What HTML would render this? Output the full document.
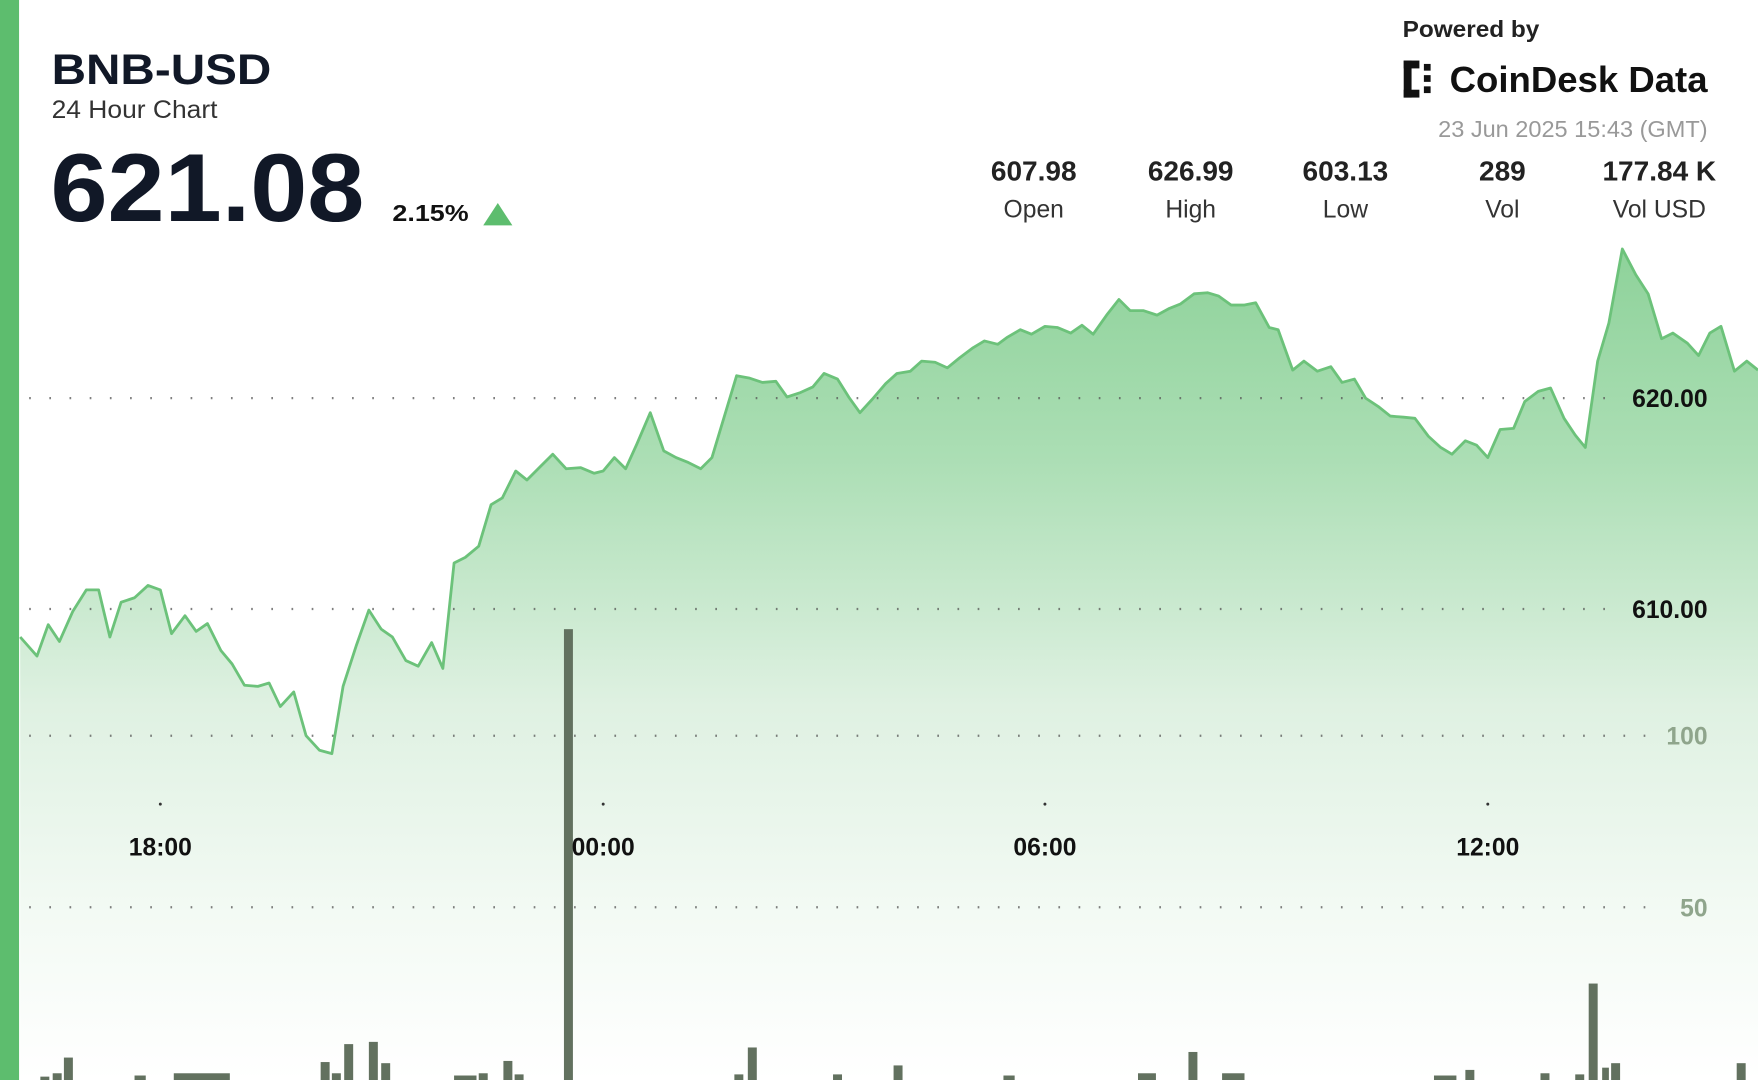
<!DOCTYPE html>
<html><head><meta charset="utf-8"><style>
html,body{margin:0;padding:0;background:#fff;}
svg{display:block;font-family:"Liberation Sans",sans-serif;}
</style></head><body>
<svg width="1758" height="1080" viewBox="0 0 1568 963" preserveAspectRatio="none">
<defs>
<linearGradient id="g" x1="0" y1="222" x2="0" y2="963" gradientUnits="userSpaceOnUse">
<stop offset="0" stop-color="#8ed29a"/>
<stop offset="0.25" stop-color="#abdeb4"/>
<stop offset="0.55" stop-color="#dff1e2"/>
<stop offset="0.8" stop-color="#f3faf4"/>
<stop offset="1" stop-color="#ffffff"/>
</linearGradient>
</defs>
<rect x="0" y="0" width="1568" height="963" fill="#fff"/>
<polygon fill="url(#g)" points="18,963 18,568 33,585 43,557 53,572 65,545 77,526 88,526 98,568 108,537 120,533 132,522 143,526 153,565 165,549 175,563 185,556 197,580 207,592 218,611 230,612 240,609 250,630 262,617 273,656 285,669 296,672 306,612 318,575 329,544 340,561 350,568 362,589 373,594 385,573 395,596 405,502 415,497 427,487 438,450 448,444 460,420 470,428 482,416 493,405 505,418 518,417 530,422 538,420 548,408 558,418 568,396 580,368 592,402 603,408 613,412 625,418 635,408 657,335 668,337 680,341 692,340 702,354 714,350 725,345 735,333 747,338 757,354 767,368 778,356 790,342 800,333 812,331 822,322 834,323 845,328 856,319 868,310 878,304 890,307 898,301 910,294 920,298 932,291 943,292 955,297 965,290 975,298 987,281 998,267 1008,277 1020,277 1032,281 1043,275 1053,271 1065,262 1077,261 1087,264 1098,272 1110,272 1120,270 1132,292 1140,294 1153,330 1163,322 1175,331 1187,327 1197,341 1208,338 1218,355 1230,363 1240,371 1252,372 1262,373 1274,389 1285,399 1295,405 1307,393 1317,397 1327,408 1338,383 1350,382 1360,358 1372,349 1383,346 1395,373 1405,388 1414,399 1425,322 1435,288 1447,222 1459,245 1470,262 1482,302 1492,297 1505,306 1515,317 1525,297 1535,291 1547,331 1558,322 1568,330 1568,963"/>
<g stroke="#555" stroke-width="2" stroke-dasharray="1.5 16.5" opacity="0.75">
<line x1="26" y1="355" x2="1440" y2="355"/>
<line x1="26" y1="543" x2="1440" y2="543"/>
<line x1="26" y1="656" x2="1470" y2="656"/>
<line x1="26" y1="809" x2="1480" y2="809"/>
</g>
<polyline fill="none" stroke="#6cc27a" stroke-width="2.5" stroke-linejoin="round" points="18,568 33,585 43,557 53,572 65,545 77,526 88,526 98,568 108,537 120,533 132,522 143,526 153,565 165,549 175,563 185,556 197,580 207,592 218,611 230,612 240,609 250,630 262,617 273,656 285,669 296,672 306,612 318,575 329,544 340,561 350,568 362,589 373,594 385,573 395,596 405,502 415,497 427,487 438,450 448,444 460,420 470,428 482,416 493,405 505,418 518,417 530,422 538,420 548,408 558,418 568,396 580,368 592,402 603,408 613,412 625,418 635,408 657,335 668,337 680,341 692,340 702,354 714,350 725,345 735,333 747,338 757,354 767,368 778,356 790,342 800,333 812,331 822,322 834,323 845,328 856,319 868,310 878,304 890,307 898,301 910,294 920,298 932,291 943,292 955,297 965,290 975,298 987,281 998,267 1008,277 1020,277 1032,281 1043,275 1053,271 1065,262 1077,261 1087,264 1098,272 1110,272 1120,270 1132,292 1140,294 1153,330 1163,322 1175,331 1187,327 1197,341 1208,338 1218,355 1230,363 1240,371 1252,372 1262,373 1274,389 1285,399 1295,405 1307,393 1317,397 1327,408 1338,383 1350,382 1360,358 1372,349 1383,346 1395,373 1405,388 1414,399 1425,322 1435,288 1447,222 1459,245 1470,262 1482,302 1492,297 1505,306 1515,317 1525,297 1535,291 1547,331 1558,322 1568,330"/>
<g fill="#62715f">
<rect x="503" y="561" width="8" height="402"/>
<rect x="1417" y="877" width="8" height="86"/>
<rect x="57" y="943" width="8" height="20"/>
<rect x="47" y="957" width="8" height="6"/>
<rect x="36" y="960" width="8" height="3"/>
<rect x="307" y="931" width="8" height="32"/>
<rect x="329" y="929" width="8" height="34"/>
<rect x="340" y="948" width="8" height="15"/>
<rect x="286" y="947" width="8" height="16"/>
<rect x="296" y="957" width="8" height="6"/>
<rect x="449" y="946" width="8" height="17"/>
<rect x="459" y="958" width="8" height="5"/>
<rect x="427" y="957" width="8" height="6"/>
<rect x="405" y="959" width="20" height="4"/>
<rect x="155" y="957" width="50" height="6"/>
<rect x="667" y="934" width="8" height="29"/>
<rect x="655" y="958" width="8" height="5"/>
<rect x="797" y="950" width="8" height="13"/>
<rect x="743" y="958" width="8" height="5"/>
<rect x="1060" y="938" width="8" height="25"/>
<rect x="1015" y="957" width="16" height="6"/>
<rect x="1090" y="957" width="20" height="6"/>
<rect x="1307" y="954" width="8" height="9"/>
<rect x="1279" y="959" width="20" height="4"/>
<rect x="1374" y="957" width="8" height="6"/>
<rect x="1405" y="958" width="8" height="5"/>
<rect x="1429" y="952" width="6" height="11"/>
<rect x="1437" y="948" width="8" height="15"/>
<rect x="1549" y="948" width="8" height="15"/>
<rect x="120" y="959" width="10" height="4"/>
<rect x="895" y="959" width="10" height="4"/>
</g>
<rect x="0" y="0" width="17" height="963" fill="#5dbd6e"/>
<g fill="#333"><circle cx="143" cy="717" r="1.3"/><circle cx="538" cy="717" r="1.3"/><circle cx="932" cy="717" r="1.3"/><circle cx="1327" cy="717" r="1.3"/></g>
<g font-weight="bold" font-size="22" fill="#111" text-anchor="middle">
<text x="143" y="763">18:00</text><text x="538" y="763">00:00</text><text x="932" y="763">06:00</text><text x="1327" y="763">12:00</text>
</g>
<g font-weight="bold" font-size="22" text-anchor="end">
<text x="1523" y="363" fill="#111">620.00</text>
<text x="1523" y="551" fill="#111">610.00</text>
<text x="1523" y="664" fill="#8fa58c">100</text>
<text x="1523" y="817" fill="#8fa58c">50</text>
</g>
<text x="46" y="75" font-size="38" font-weight="bold" fill="#111827" textLength="196" lengthAdjust="spacingAndGlyphs">BNB-USD</text>
<text x="46" y="105" font-size="22" fill="#333" textLength="148" lengthAdjust="spacingAndGlyphs">24 Hour Chart</text>
<text x="45" y="197" font-size="86" font-weight="bold" fill="#111827" textLength="280" lengthAdjust="spacingAndGlyphs">621.08</text>
<text x="350" y="197" font-size="21" font-weight="bold" fill="#111" textLength="68" lengthAdjust="spacingAndGlyphs">2.15%</text>
<polygon points="431,201 457,201 444,181" fill="#5dbd6e"/>
<text x="1251" y="33" font-size="21" font-weight="bold" fill="#222" textLength="122" lengthAdjust="spacingAndGlyphs">Powered by</text>
<g fill="#111"><rect x="1252" y="54" width="7" height="33"/><rect x="1252" y="54" width="14" height="7"/><rect x="1252" y="80" width="14" height="7"/><rect x="1270" y="57" width="6" height="6"/><rect x="1270" y="67" width="6" height="6"/><rect x="1270" y="77" width="6" height="6"/></g>
<text x="1293" y="82" font-size="32" font-weight="bold" fill="#111" textLength="230" lengthAdjust="spacingAndGlyphs">CoinDesk Data</text>
<text x="1523" y="122" font-size="21" fill="#999" text-anchor="end">23 Jun 2025 15:43 (GMT)</text>
<g text-anchor="middle">
<g font-size="25" font-weight="bold" fill="#222">
<text x="922" y="161">607.98</text><text x="1062" y="161">626.99</text><text x="1200" y="161">603.13</text><text x="1340" y="161">289</text><text x="1480" y="161">177.84 K</text>
</g>
<g font-size="22" fill="#333">
<text x="922" y="194">Open</text><text x="1062" y="194">High</text><text x="1200" y="194">Low</text><text x="1340" y="194">Vol</text><text x="1480" y="194">Vol USD</text>
</g>
</g>
</svg>
</body></html>
